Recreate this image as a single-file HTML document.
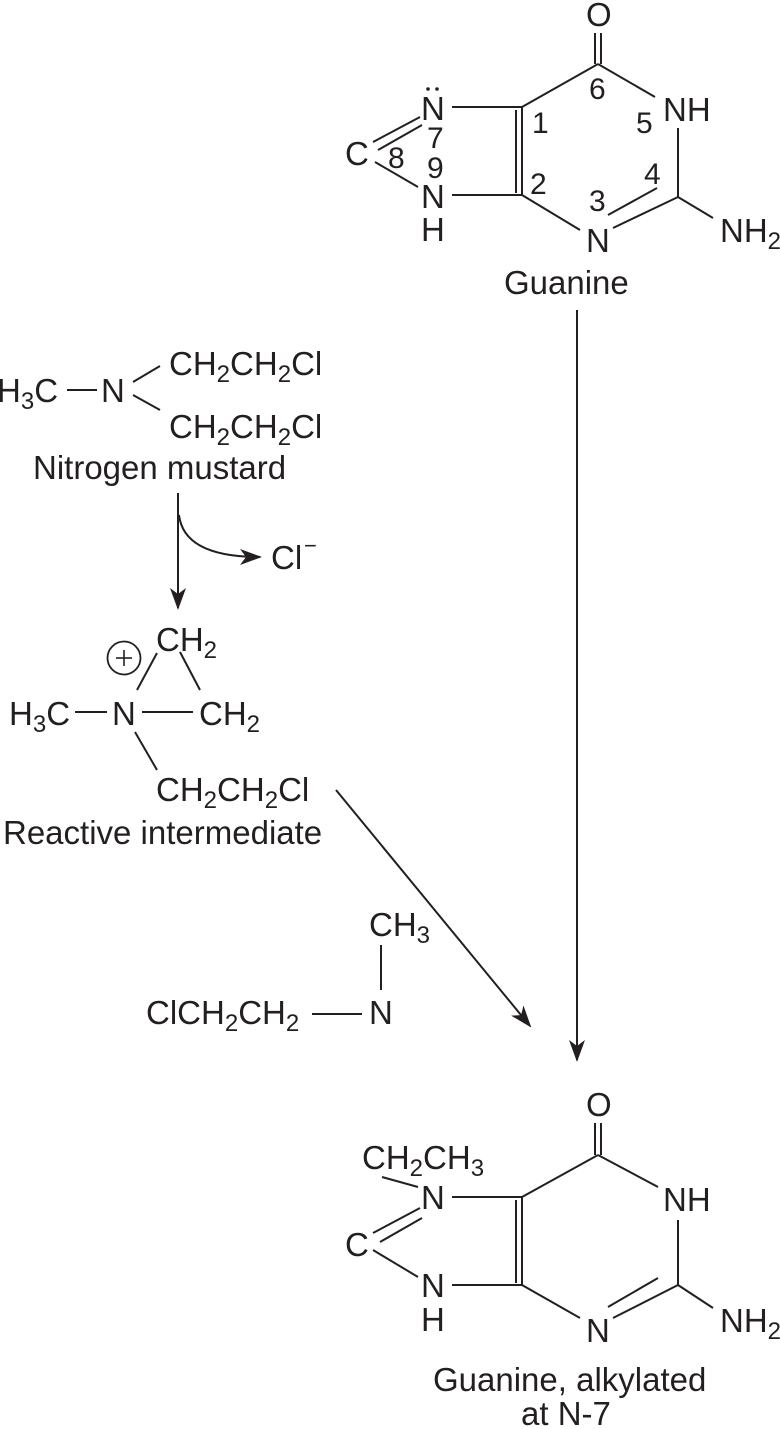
<!DOCTYPE html>
<html><head><meta charset="utf-8"><style>
html,body{margin:0;padding:0;background:#fff;}
svg{display:block;}
text{font-family:"Liberation Sans",Arial,sans-serif;font-size:33px;fill:#231f20;}
.s{font-size:24px;}
.n{font-size:30px;}
line,path,polyline{stroke:#231f20;stroke-width:2;fill:none;}
</style></head><body>
<svg width="780" height="1429" viewBox="0 0 780 1429" xmlns="http://www.w3.org/2000/svg">
<defs>
<marker id="ah" markerWidth="22" markerHeight="16" refX="20" refY="8" orient="auto" markerUnits="userSpaceOnUse">
<path d="M0,0 L22,8 L0,16 L6,8 Z" style="fill:#231f20;stroke:none"/>
</marker>
</defs>

<!-- Top guanine -->
<text x="586" y="26">O</text>
<line x1="595" y1="33" x2="595" y2="64"/><line x1="601" y1="33" x2="601" y2="64"/>
<line x1="598" y1="64" x2="655" y2="97"/>
<line x1="598" y1="64" x2="522" y2="107"/>
<text x="663" y="121">NH</text>
<text x="636" y="133" class="n">5</text>
<text x="589" y="99" class="n">6</text>
<line x1="678" y1="128" x2="678" y2="197"/>
<line x1="678" y1="197" x2="713" y2="218"/>
<text x="720" y="242">NH<tspan class="s" dy="7">2</tspan></text>
<line x1="678" y1="197" x2="613" y2="228"/>
<line x1="608" y1="215" x2="657" y2="188"/>
<text x="644" y="184" class="n">4</text>
<text x="589" y="211" class="n">3</text>
<text x="586" y="252">N</text>
<line x1="580" y1="230" x2="522" y2="195"/>
<line x1="522" y1="107" x2="522" y2="195"/><line x1="516" y1="110" x2="516" y2="193"/>
<text x="532" y="133" class="n">1</text>
<text x="530" y="194" class="n">2</text>
<line x1="452" y1="107" x2="522" y2="107"/>
<text x="421" y="120">N</text>
<circle cx="428" cy="89" r="1.8" style="fill:#231f20"/><circle cx="437" cy="89" r="1.8" style="fill:#231f20"/>
<text x="427" y="148" class="n">7</text>
<text x="427" y="178" class="n">9</text>
<text x="388" y="168" class="n">8</text>
<text x="345" y="165">C</text>
<line x1="373" y1="142" x2="420" y2="117"/><line x1="378" y1="150" x2="422" y2="125"/>
<line x1="375" y1="162" x2="418" y2="187"/>
<text x="421" y="208">N</text>
<text x="421" y="241">H</text>
<line x1="452" y1="195" x2="522" y2="195"/>
<text x="504" y="294">Guanine</text>

<!-- vertical arrow -->
<line x1="577" y1="310" x2="577" y2="1060" marker-end="url(#ah)"/>

<!-- Nitrogen mustard -->
<text x="-3" y="402">H<tspan class="s" dy="7">3</tspan><tspan dy="-7">C</tspan></text>
<line x1="67" y1="390" x2="97" y2="390"/>
<text x="101" y="402">N</text>
<line x1="133" y1="382" x2="160" y2="366"/>
<line x1="133" y1="395" x2="160" y2="410"/>
<text x="169" y="375">CH<tspan class="s" dy="7">2</tspan><tspan dy="-7">CH</tspan><tspan class="s" dy="7">2</tspan><tspan dy="-7">Cl</tspan></text>
<text x="169" y="438">CH<tspan class="s" dy="7">2</tspan><tspan dy="-7">CH</tspan><tspan class="s" dy="7">2</tspan><tspan dy="-7">Cl</tspan></text>
<text x="33" y="479">Nitrogen mustard</text>

<line x1="178" y1="493" x2="178" y2="608" marker-end="url(#ah)"/>
<path d="M179,515 Q184,557 260,557" marker-end="url(#ah)"/>
<text x="271" y="569">Cl</text><text x="304" y="553" style="font-size:22px">−</text>

<!-- Reactive intermediate -->
<text x="156" y="651">CH<tspan class="s" dy="7">2</tspan></text>
<circle cx="124" cy="658" r="16.5" style="fill:none;stroke:#231f20;stroke-width:1.8"/>
<line x1="116" y1="658" x2="132" y2="658" style="stroke-width:1.6"/>
<line x1="124" y1="650" x2="124" y2="666" style="stroke-width:1.6"/>
<line x1="137" y1="690" x2="157" y2="653"/>
<line x1="180" y1="652" x2="200" y2="690"/>
<text x="9" y="725">H<tspan class="s" dy="7">3</tspan><tspan dy="-7">C</tspan></text>
<line x1="75" y1="712" x2="107" y2="712"/>
<text x="112" y="725">N</text>
<line x1="142" y1="712" x2="193" y2="712"/>
<text x="199" y="725">CH<tspan class="s" dy="7">2</tspan></text>
<line x1="135" y1="732" x2="157" y2="770"/>
<text x="156" y="801">CH<tspan class="s" dy="7">2</tspan><tspan dy="-7">CH</tspan><tspan class="s" dy="7">2</tspan><tspan dy="-7">Cl</tspan></text>
<text x="3" y="844">Reactive intermediate</text>

<!-- diagonal arrow -->
<line x1="336" y1="790" x2="530" y2="1026" marker-end="url(#ah)"/>

<!-- ClCH2CH2-N-CH3 -->
<text x="369" y="936">CH<tspan class="s" dy="7">3</tspan></text>
<line x1="381" y1="945" x2="381" y2="990"/>
<text x="146" y="1024">ClCH<tspan class="s" dy="7">2</tspan><tspan dy="-7">CH</tspan><tspan class="s" dy="7">2</tspan></text>
<line x1="312" y1="1014" x2="362" y2="1014"/>
<text x="369" y="1024">N</text>

<!-- Bottom guanine -->
<text x="586" y="1116">O</text>
<line x1="595" y1="1123" x2="595" y2="1155"/><line x1="601" y1="1123" x2="601" y2="1155"/>
<line x1="598" y1="1155" x2="658" y2="1187"/>
<line x1="598" y1="1155" x2="522" y2="1197"/>
<text x="663" y="1211">NH</text>
<line x1="678" y1="1220" x2="678" y2="1285"/>
<line x1="678" y1="1285" x2="713" y2="1308"/>
<text x="720" y="1332">NH<tspan class="s" dy="7">2</tspan></text>
<line x1="678" y1="1285" x2="613" y2="1318"/>
<line x1="608" y1="1307" x2="658" y2="1278"/>
<text x="586" y="1342">N</text>
<line x1="580" y1="1318" x2="522" y2="1285"/>
<line x1="522" y1="1197" x2="522" y2="1285"/><line x1="516" y1="1200" x2="516" y2="1283"/>
<line x1="452" y1="1197" x2="522" y2="1197"/>
<text x="421" y="1209">N</text>
<text x="362" y="1169">CH<tspan class="s" dy="7">2</tspan><tspan dy="-7">CH</tspan><tspan class="s" dy="7">3</tspan></text>
<line x1="382" y1="1177" x2="418" y2="1187"/>
<text x="345" y="1256">C</text>
<line x1="373" y1="1233" x2="420" y2="1208"/><line x1="380" y1="1242" x2="422" y2="1218"/>
<line x1="373" y1="1250" x2="418" y2="1277"/>
<text x="421" y="1297">N</text>
<text x="421" y="1331">H</text>
<line x1="452" y1="1285" x2="522" y2="1285"/>
<text x="433" y="1391">Guanine, alkylated</text>
<text x="521" y="1425">at N-7</text>
</svg>
</body></html>
